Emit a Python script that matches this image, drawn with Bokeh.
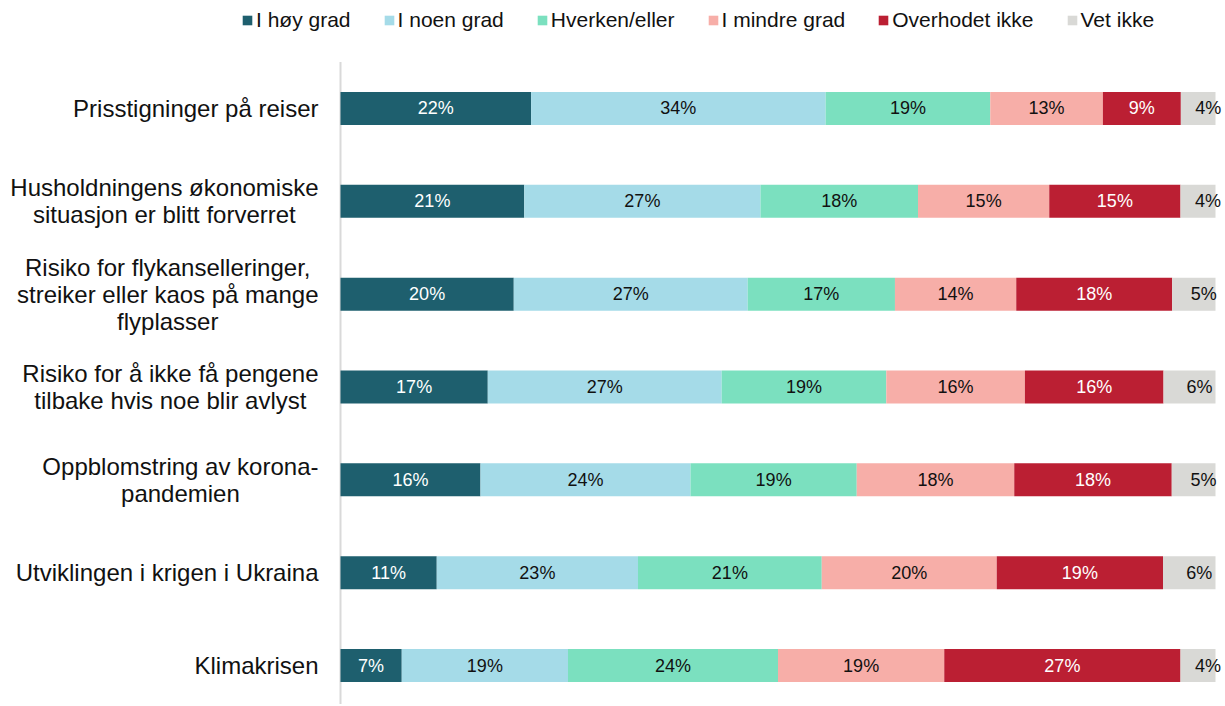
from bokeh.plotting import figure
from bokeh.models import ColumnDataSource, Range1d, LabelSet
from bokeh.core.properties import value
from bokeh.embed import file_html
from bokeh.resources import INLINE

categories = [
    "Prisstigninger på reiser",
    "Husholdningens økonomiske\nsituasjon er blitt forverret",
    "Risiko for flykanselleringer,\nstreiker eller kaos på mange\nflyplasser",
    "Risiko for å ikke få pengene\ntilbake hvis noe blir avlyst",
    "Oppblomstring av korona-\npandemien",
    "Utviklingen i krigen i Ukraina",
    "Klimakrisen",
]
series = ["I høy grad", "I noen grad", "Hverken/eller", "I mindre grad", "Overhodet ikke", "Vet ikke"]
hoy_grad = [22, 21, 20, 17, 16, 11, 7]
noen_grad = [34, 27, 27, 27, 24, 23, 19]
hverken = [19, 18, 17, 19, 19, 21, 24]
mindre_grad = [13, 15, 14, 16, 18, 20, 19]
overhodet_ikke = [9, 15, 18, 16, 18, 19, 27]
vet_ikke = [4, 4, 5, 6, 5, 6, 4]

colors = ["#1e5f6e", "#a5dbe8", "#7be0bf", "#f7aea8", "#bb1f33", "#d9d9d6"]
label_colors = ["white", "#111111", "#111111", "#111111", "white", "#111111"]
FONT = "Liberation Sans"

values = [hoy_grad, noen_grad, hverken, mindre_grad, overhodet_ikke, vet_ikke]
n = len(categories)
totals = [sum(v[i] for v in values) for i in range(n)]
ypos = [n - 1 - i for i in range(n)]

data = {"y": ypos, "cat": categories}
for s, v in zip(series, values):
    data[s] = [v[i] / totals[i] * 100 for i in range(n)]
source = ColumnDataSource(data)

yr = Range1d(-0.42, 7.163)
p = figure(width=1222, height=704, output_backend="svg", toolbar_location=None,
           x_range=Range1d(-38.857, 100.8), y_range=yr,
           min_border_left=0, min_border_right=0, min_border_top=0, min_border_bottom=0)
p.xaxis.visible = False
p.yaxis.visible = False
p.xgrid.visible = False
p.ygrid.visible = False
p.outline_line_color = None

# vertical category-axis line (from bottom of plot to top of first row band)
p.segment(x0=0, y0=yr.start, x1=0, y1=n - 0.5, line_color="#d9d9d9", line_width=2, level="underlay")

p.hbar_stack(series, y="y", height=0.355, color=colors, source=source,
             legend_label=series, line_color=None)

# data labels
for k, s in enumerate(series):
    left = [sum(data[series[j]][i] for j in range(k)) for i in range(n)]
    mid = [left[i] + data[s][i] / 2 for i in range(n)]
    lsrc = ColumnDataSource({"x": mid, "y": ypos, "t": [f"{values[k][i]}%" for i in range(n)]})
    p.add_layout(LabelSet(x="x", y="y", text="t", source=lsrc, text_align="center",
                          text_baseline="middle", text_font=value(FONT), text_font_size="18px",
                          text_color=label_colors[k], x_offset=10 if k == len(series) - 1 else 0))

# category labels
p.text(x=0, y="y", text="cat", source=source, x_offset=-22, text_align="center",
       anchor="center_right", text_baseline="middle", text_font=value(FONT),
       text_font_size="24px", text_line_height=1.0, text_color="#111111")

lg = p.legend[0]
lg.orientation = "horizontal"
lg.location = (241, 672)
lg.padding = 0
lg.margin = 0
lg.spacing = 32
lg.glyph_width = 12
lg.glyph_height = 12
lg.label_standoff = 3
lg.border_line_color = None
lg.background_fill_alpha = 0
lg.label_text_font = FONT
lg.label_text_font_size = "21px"
lg.label_text_color = "#111111"

open("out.html", "w").write(file_html(p, INLINE))
